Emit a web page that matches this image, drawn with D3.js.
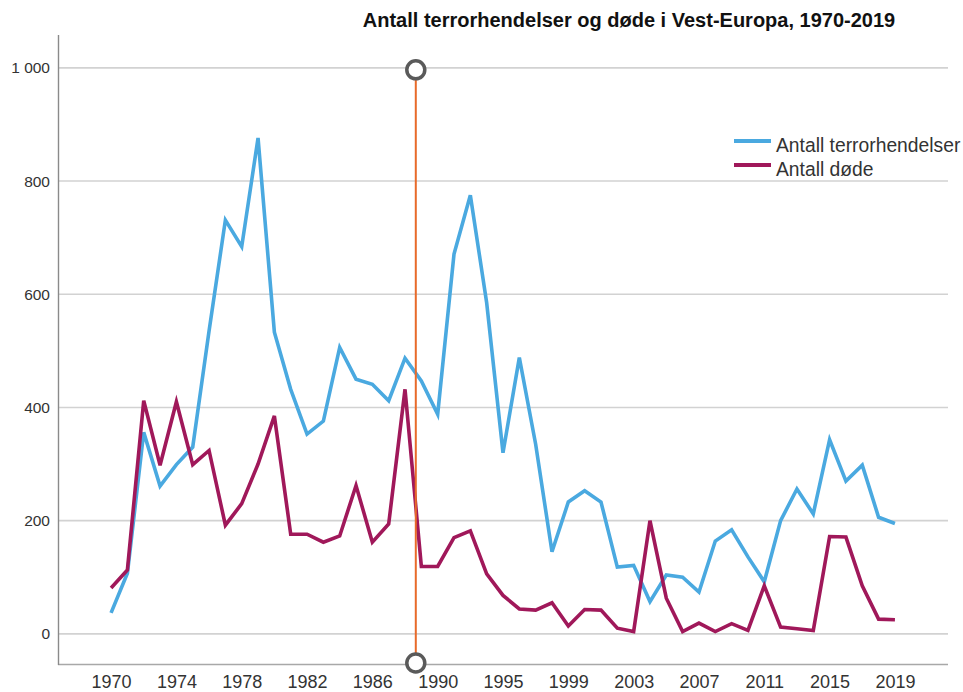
<!DOCTYPE html>
<html>
<head>
<meta charset="utf-8">
<script src="https://cdn.jsdelivr.net/npm/d3@7"></script>
<style>
  html, body { margin: 0; padding: 0; background: #fff; }
  svg { display: block; }
</style>
</head>
<body>
<svg id="chart" width="963" height="692"></svg>
<script>
// ---- data ----
const years = [1970,1971,1972,1973,1974,1975,1976,1977,1978,1979,1980,1981,1982,
  1983,1984,1985,1986,1987,1988,1989,1990,1991,1992,
  1994,1995,1996,1997,1998,1999,2000,2001,2002,2003,2004,2005,2006,2007,2008,2009,
  2010,2011,2012,2013,2014,2015,2016,2017,2018,2019];
const incidents = [37,107,356,261,299,330,535,731,684,876,533,432,353,
  376,506,450,441,412,487,447,388,671,775,
  585,320,488,335,145,233,253,233,118,121,57,104,100,74,164,184,
  136,92,200,256,212,343,270,298,206,195];
const deaths = [81,113,412,298,410,299,324,192,230,300,385,176,176,
  162,173,262,162,194,432,119,119,170,182,
  106,68,44,42,55,14,43,42,10,4,200,63,4,19,4,18,
  6,85,12,9,6,172,171,85,26,25];
const yTicks = [0,200,400,600,800,1000];
const xTickYears = years.filter((d,i) => i % 4 === 0);
const seriesNames = ["Antall terrorhendelser","Antall døde"];
const seriesColors = ["#4AA9E0","#A0185A"];
const refYear = 1988, refFrac = 0.66, refTop = 1000;
const titleText = "Antall terrorhendelser og døde i Vest-Europa, 1970-2019";

// ---- layout ----
const svg = d3.select("#chart");
const pLeft = 58, pRight = 948, pTop = 35, pBottom = 665;
const font = "Liberation Sans, Arial, sans-serif";

const x = d3.scalePoint().domain(years).range([pLeft, pRight]).padding(3.25);
const y = d3.scaleLinear().domain([-55, 1058]).range([pBottom, pTop]);

// gridlines
svg.append("g").selectAll("line").data(yTicks).join("line")
  .attr("x1", pLeft).attr("x2", pRight)
  .attr("y1", d => y(d)).attr("y2", d => y(d))
  .attr("stroke", "#d2d2d2").attr("stroke-width", 1.6);

// bottom line
svg.append("line").attr("x1", pLeft).attr("x2", pRight)
  .attr("y1", pBottom - 0.5).attr("y2", pBottom - 0.5)
  .attr("stroke", "#a8a8a8").attr("stroke-width", 1.6);

// y axis
const yAxis = svg.append("g").attr("transform", `translate(${pLeft},0)`)
  .call(d3.axisLeft(y).tickValues(yTicks).tickSize(0).tickPadding(8)
    .tickFormat(d => d >= 1000 ? d3.format(",")(d).replace(",", " ") : d));
yAxis.select(".domain").attr("stroke", "#8a8a8a").attr("stroke-width", 1.4)
  .attr("d", `M0.5,${pTop}V${pBottom}`);
yAxis.selectAll("text").attr("font-family", font)
  .attr("font-size", 15.5).attr("fill", "#333");

// x axis
const xAxis = svg.append("g").attr("transform", `translate(0,${pBottom})`)
  .call(d3.axisBottom(x).tickValues(xTickYears).tickSize(0).tickPadding(10));
xAxis.select(".domain").remove();
xAxis.selectAll("text").attr("font-family", font)
  .attr("font-size", 18).attr("fill", "#333");

// lines
const line = d3.line().x((d,i) => x(years[i])).y(d => y(d));
[incidents, deaths].forEach((s, k) => {
  svg.append("path").datum(s).attr("d", line)
    .attr("fill", "none").attr("stroke", seriesColors[k])
    .attr("stroke-width", 3.6).attr("stroke-linejoin", "miter");
});

// reference line
const rx = x(refYear) + refFrac * x.step();
svg.append("line").attr("x1", rx).attr("x2", rx)
  .attr("y1", y(refTop)).attr("y2", pBottom - 2)
  .attr("stroke", "#E86A2A").attr("stroke-width", 2);
[y(refTop) + 2, pBottom - 2].forEach(cy => {
  svg.append("circle").attr("cx", rx).attr("cy", cy).attr("r", 9)
    .attr("fill", "#fff").attr("stroke", "#5a5a5a").attr("stroke-width", 3.5);
});

// legend
const lg = svg.append("g").attr("transform", "translate(734,141)");
seriesNames.forEach((n, k) => {
  const g = lg.append("g").attr("transform", `translate(0,${k * 24})`);
  g.append("line").attr("x1", 0).attr("x2", 37).attr("y1", 0).attr("y2", 0)
    .attr("stroke", seriesColors[k]).attr("stroke-width", 4);
  g.append("text").attr("x", 42).attr("y", 11)
    .attr("font-family", font)
    .attr("font-size", 19.3).attr("fill", "#333").text(n);
});

// title
svg.append("text").attr("x", 629).attr("y", 27).attr("text-anchor", "middle")
  .attr("font-family", font)
  .attr("font-weight", "bold").attr("font-size", 20).attr("fill", "#111")
  .text(titleText);
</script>
</body>
</html>
